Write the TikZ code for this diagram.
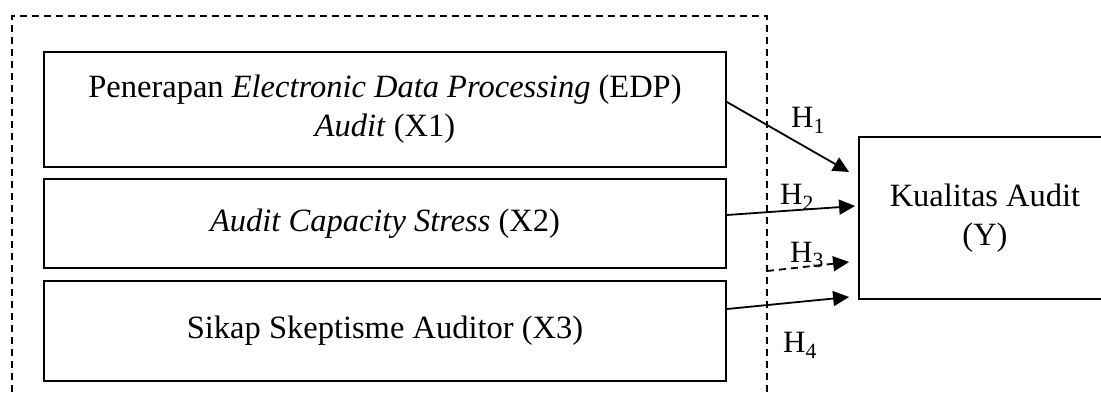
\documentclass[tikz,border=0pt]{standalone}
\usepackage{fontspec}
\setmainfont{Liberation Serif}
\usetikzlibrary{arrows.meta}
\begin{document}
\begin{tikzpicture}[x=1pt,y=-1pt,
  box/.style={draw,line width=1.8pt,rectangle,align=center,inner sep=0pt,font=\fontsize{32.5}{39}\selectfont},
  lbl/.style={font=\fontsize{31}{34}\selectfont,inner sep=0pt},
  conn/.style={line width=1.8pt,-{Triangle[length=16pt,width=15pt]}},
  frame/.style={line width=1.2pt,dash pattern=on 7pt off 5pt}]
\useasboundingbox (0,0) rectangle (1101,392);
\draw[frame] (12,392) -- (12,16) -- (767,16) -- (767,392);
\coordinate (d3) at (767,271);
\node[box,minimum width=682pt,minimum height=115pt] (b1) at (385,109.5)
  {Penerapan \textit{Electronic Data Processing} (EDP)\\ \textit{Audit} (X1)};
\node[box,minimum width=682pt,minimum height=89pt] (b2) at (385,223.5)
  {\textit{Audit Capacity Stress} (X2)};
\node[box,minimum width=682pt,minimum height=100pt] (b3) at (385,331)
  {Sikap Skeptisme Auditor (X3)};
\node[box,minimum width=252pt,minimum height=162pt] (y) at (985,218)
  {Kualitas Audit\\ (Y)};
\draw[conn] ([yshift=7.5pt]b1.east) -- ([xshift=-9pt,yshift=46pt]y.west);
\draw[conn] ([yshift=8.5pt]b2.east) -- ([xshift=-3pt,yshift=12pt]y.west);
\draw[conn,dash pattern=on 7pt off 5pt] (d3) -- ([xshift=-9pt,yshift=-44pt]y.west);
\draw[conn] ([yshift=22pt]b3.east) -- ([xshift=-9pt,yshift=-79pt]y.west);
\node[lbl] (h1) at (808,120) {H\textsubscript{1}};
\node[lbl] (h2) at (797,197) {H\textsubscript{2}};
\node[lbl] (h3) at (807,255) {H\textsubscript{3}};
\node[lbl] (h4) at (800,345) {H\textsubscript{4}};
\end{tikzpicture}
\end{document}
